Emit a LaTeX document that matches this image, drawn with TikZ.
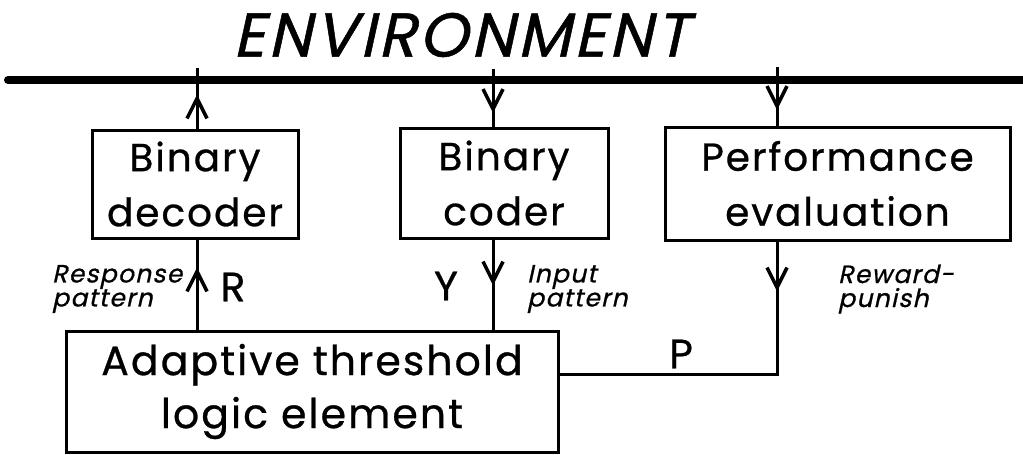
\documentclass[tikz,border=0pt]{standalone}
\usepackage{fontspec}
\usetikzlibrary{arrows.meta,decorations.markings}
\newfontfamily\lettering{Poppins}[LetterSpace=5,FakeBold=0.7]
\newfontfamily\letteringit{Poppins}[FakeSlant=0.22,LetterSpace=5,FakeBold=0.8]

\tikzset{
  box/.style={draw,line width=3pt,inner sep=0pt,align=center,
    font=\lettering\fontsize{39}{55}\selectfont},
  bigbox/.style={box,font=\lettering\fontsize{41}{53}\selectfont},
  wire/.style={line width=3pt},
  bus/.style={line width=8pt,line cap=round},
  barb/.style={postaction={decorate},decoration={markings,
    mark=at position #1 with {\arrow{Straight Barb[length=20pt,width=20pt,line width=3.5pt]}}}},
  letter/.style={inner sep=0pt,font=\lettering\fontsize{41}{41}\selectfont},
  note/.style={inner sep=0pt,align=left,font=\letteringit\fontsize{25}{24}\selectfont},
}

\begin{document}
\begin{tikzpicture}[x=1pt,y=-1pt]
\useasboundingbox[fill=white] (0,0) rectangle (1023,455);

% title and the environment bus
\node[inner sep=0pt,font=\letteringit\fontsize{62}{62}\selectfont] (env) at (461,35) {ENVIRONMENT};
\coordinate (busL) at (8,80);
\coordinate (busR) at (1030,80);
\draw[bus] (busL) -- (busR);

% blocks
\node[box,minimum width=206pt,minimum height=108pt] (dec) at (195,184) {Binary\\decoder};
\node[box,minimum width=208pt,minimum height=110pt] (cod) at (504,183) {Binary\\coder};
\node[box,minimum width=345pt,minimum height=113pt] (perf) at (837.5,183.5) {Performance\\evaluation};
\node[bigbox,minimum width=492pt,minimum height=121pt] (atle) at (312,391.5) {Adaptive threshold\\logic element};

% stems crossing the bus
\coordinate (up1) at (197,68);
\coordinate (dn2) at (493,69);
\coordinate (dn3) at (777,67);
\coordinate (pcorner) at (777,374);

\draw[wire,barb=34pt] (dec.north -| up1) -- (up1);
\draw[wire,barb=44pt] (dn2) -- (cod.north -| dn2);
\draw[wire,barb=43pt] (dn3) -- (perf.north -| dn3);

% links between the blocks
\draw[wire,barb=62pt] (atle.north -| up1) -- (dec.south -| up1);
\draw[wire,barb=46pt] (cod.south -| dn2) -- (atle.north -| dn2);
\draw[wire,barb=50pt] (perf.south -| dn3) -- (pcorner) -- (atle.east |- pcorner);

% signal names
\node[letter] (R) at (233,287) {R};
\node[letter] (Y) at (446,286) {Y};
\node[letter] (P) at (681,354) {P};
\node[note,anchor=west] (resp) at (52,289) {Response\\pattern};
\node[note,anchor=west] (inp) at (527,289) {Input\\pattern};
\node[note,anchor=west] (rew) at (838,289) {Reward-\\punish};
\end{tikzpicture}
\end{document}
